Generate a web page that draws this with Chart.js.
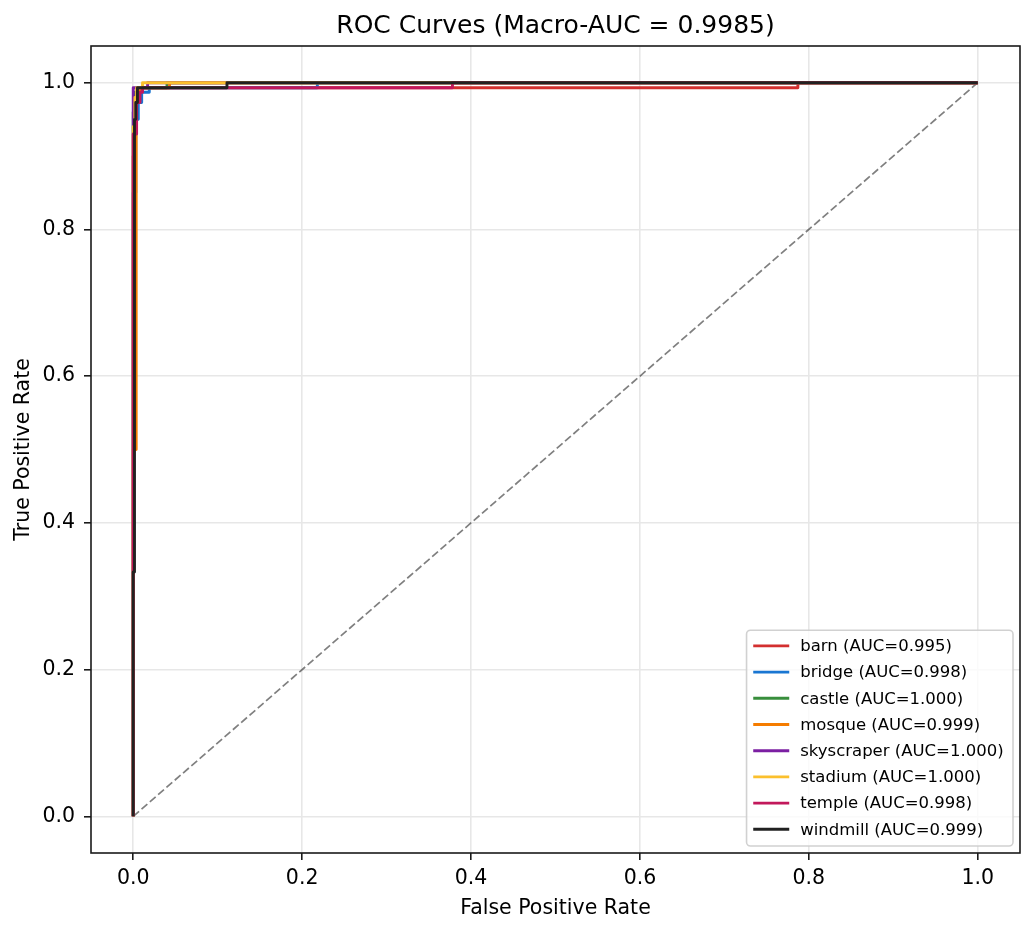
<!DOCTYPE html>
<html>
<head>
<meta charset="utf-8">
<title>ROC Curves</title>
<script src="https://cdn.jsdelivr.net/npm/chart.js@4.4.1/dist/chart.umd.min.js"></script>
<style>
  html, body { margin: 0; padding: 0; background: #fff; }
  #wrap { width: 1036px; height: 932px; position: relative; }
</style>
</head>
<body>
<div id="wrap"><canvas id="roc"></canvas></div>
<script>
// class names and per-class AUC (as printed in the legend)
const classNames = ['barn', 'bridge', 'castle', 'mosque', 'skyscraper', 'stadium', 'temple', 'windmill'];
const aucValues = [0.995, 0.998, 1.000, 0.999, 1.000, 1.000, 0.998, 0.999];
const macroAuc = 0.9985;
const classColors = ['#d32f2f', '#1976d2', '#388e3c', '#f57c00', '#7b1fa2', '#fbc02d', '#c2185b', '#212121'];

// ROC points (false positive rate / true positive rate)
const barnFpr = [0, 0, 0.002, 0.002, 0.005, 0.005, 0.008, 0.008, 0.787, 0.787, 1];
const barnTpr = [0, 0.9, 0.9, 0.95, 0.95, 0.98, 0.98, 0.993, 0.993, 1, 1];
const bridgeFpr = [0, 0, 0.003, 0.003, 0.006, 0.006, 0.01, 0.01, 0.019, 0.019, 0.218, 0.218, 1];
const bridgeTpr = [0, 0.85, 0.85, 0.95, 0.95, 0.973, 0.973, 0.987, 0.987, 0.993, 0.993, 1, 1];
const castleFpr = [0, 0, 0.002, 0.002, 0.005, 0.005, 0.04, 0.04, 1];
const castleTpr = [0, 0.96, 0.96, 0.987, 0.987, 0.993, 0.993, 1, 1];
const mosqueFpr = [0, 0, 0.0035, 0.0035, 0.007, 0.007, 0.043, 0.043, 1];
const mosqueTpr = [0, 0.5, 0.5, 0.98, 0.98, 0.993, 0.993, 1, 1];
const skyscraperFpr = [0, 0, 0.017, 0.017, 1];
const skyscraperTpr = [0, 0.993, 0.993, 1, 1];
const stadiumFpr = [0, 0, 0.002, 0.002, 0.004, 0.004, 0.011, 0.011, 1];
const stadiumTpr = [0, 0.94, 0.94, 0.98, 0.98, 0.993, 0.993, 1, 1];
const templeFpr = [0, 0, 0.004, 0.004, 0.008, 0.008, 0.011, 0.011, 0.378, 0.378, 1];
const templeTpr = [0, 0.93, 0.93, 0.973, 0.973, 0.987, 0.987, 0.993, 0.993, 1, 1];
const windmillFpr = [0, 0, 0.0015, 0.0015, 0.003, 0.003, 0.005, 0.005, 0.111, 0.111, 1];
const windmillTpr = [0, 0.333, 0.333, 0.95, 0.95, 0.973, 0.973, 0.993, 0.993, 1, 1];

const chanceFpr = [0, 1];
const chanceTpr = [0, 1];

const xTicks = [0, 0.2, 0.4, 0.6, 0.8, 1.0];
const yTicks = [0, 0.2, 0.4, 0.6, 0.8, 1.0];

const rocFpr = [barnFpr, bridgeFpr, castleFpr, mosqueFpr, skyscraperFpr, stadiumFpr, templeFpr, windmillFpr];
const rocTpr = [barnTpr, bridgeTpr, castleTpr, mosqueTpr, skyscraperTpr, stadiumTpr, templeTpr, windmillTpr];

const FONT = 'DejaVu Sans';

function toPoints(xs, ys) {
  return xs.map((x, i) => ({ x: x, y: ys[i] }));
}

const datasets = classNames.map((name, i) => ({
  label: name + ' (AUC=' + aucValues[i].toFixed(3) + ')',
  data: toPoints(rocFpr[i], rocTpr[i]),
  showLine: true,
  borderColor: classColors[i],
  backgroundColor: classColors[i],
  borderWidth: 2.9,
  borderJoinStyle: 'round',
  pointRadius: 0,
  tension: 0,
  order: classNames.length - i  // later classes drawn on top, like matplotlib
}));

datasets.push({
  label: 'chance',
  data: toPoints(chanceFpr, chanceTpr),
  showLine: true,
  borderColor: 'rgba(0,0,0,0.5)',
  borderWidth: 1.7,
  borderDash: [7.7, 3.3],
  pointRadius: 0,
  order: 50,
  isChance: true
});

// frame around the axes + legend box inside lower right
const frameAndLegend = {
  id: 'frameAndLegend',
  afterDatasetsDraw(chart) {
    const { ctx, chartArea: a } = chart;
    ctx.save();
    ctx.strokeStyle = '#1a1a1a';
    ctx.lineWidth = 1.6;
    ctx.strokeRect(a.left, a.top, a.right - a.left, a.bottom - a.top);

    const items = chart.data.datasets.filter(d => !d.isChance);
    ctx.font = '16.5px "' + FONT + '"';
    const textW = Math.max(...items.map(d => ctx.measureText(d.label).width));
    const padL = 6.7, handle = 36, gap = 11, padR = 9.4;
    const rowH = 26.2, padT = 15.7, padB = 16.7;
    const w = padL + handle + gap + textW + padR;
    const h = padT + rowH * (items.length - 1) + padB;
    const x0 = a.right - 7 - w;
    const y0 = a.bottom - 7 - h;

    ctx.beginPath();
    ctx.roundRect(x0, y0, w, h, 4);
    ctx.fillStyle = 'rgba(255,255,255,0.8)';
    ctx.fill();
    ctx.strokeStyle = 'rgba(204,204,204,0.9)';
    ctx.lineWidth = 1.6;
    ctx.stroke();

    items.forEach((d, i) => {
      const cy = y0 + padT + i * rowH;
      ctx.beginPath();
      ctx.moveTo(x0 + padL, cy);
      ctx.lineTo(x0 + padL + handle, cy);
      ctx.strokeStyle = d.borderColor;
      ctx.lineWidth = 2.9;
      ctx.stroke();
      ctx.fillStyle = '#000';
      ctx.textBaseline = 'middle';
      ctx.textAlign = 'left';
      ctx.fillText(d.label, x0 + padL + handle + gap, cy + 1);
    });
    ctx.restore();
  }
};

new Chart(document.getElementById('roc'), {
  type: 'scatter',
  data: { datasets: datasets },
  plugins: [frameAndLegend],
  options: {
    responsive: true,
    maintainAspectRatio: false,
    animation: false,
    layout: { padding: { top: 0, right: 16, bottom: 0, left: 0 } },
    plugins: {
      legend: { display: false },
      tooltip: { enabled: false },
      title: {
        display: true,
        fullSize: false,  // center over the plot area
        text: 'ROC Curves (Macro-AUC = ' + macroAuc + ')',
        color: '#000',
        font: { family: FONT, size: 25, weight: 'normal' },
        padding: { top: 11, bottom: 5 }
      }
    },
    scales: {
      x: {
        type: 'linear',
        min: -0.05,
        max: 1.05,
        afterBuildTicks: s => { s.ticks = xTicks.map(v => ({ value: v })); },
        afterFit: s => { s.height = 79; },
        ticks: {
          callback: v => Number(v).toFixed(1),
          color: '#000',
          font: { family: FONT, size: 20.5 },
          padding: 6,
          maxRotation: 0
        },
        grid: { color: '#e7e7e7', lineWidth: 1.6, tickLength: 7, tickColor: '#1a1a1a', tickWidth: 1.6 },
        border: { display: false },
        title: {
          display: true,
          text: 'False Positive Rate',
          color: '#000',
          font: { family: FONT, size: 20.5 },
          padding: { top: 0, bottom: 11 }
        }
      },
      y: {
        type: 'linear',
        min: -0.05,
        max: 1.05,
        afterBuildTicks: s => { s.ticks = yTicks.map(v => ({ value: v })); },
        afterFit: s => { s.width = 91; },
        ticks: {
          callback: v => Number(v).toFixed(1),
          color: '#000',
          font: { family: FONT, size: 20.5 },
          padding: 9
        },
        grid: { color: '#e7e7e7', lineWidth: 1.6, tickLength: 7, tickColor: '#1a1a1a', tickWidth: 1.6 },
        border: { display: false },
        title: {
          display: true,
          text: 'True Positive Rate',
          color: '#000',
          font: { family: FONT, size: 20.5 },
          padding: { top: 11.7, bottom: 0 }
        }
      }
    }
  }
});
</script>
</body>
</html>
